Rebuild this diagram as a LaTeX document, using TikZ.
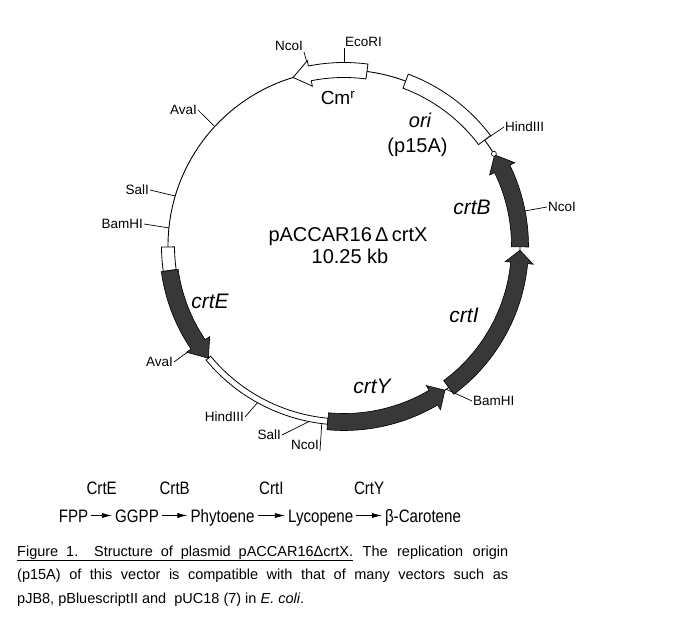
\documentclass[tikz,border=0pt]{standalone}
\usepackage{fontspec}
\setmainfont{Liberation Sans}
\newfontfamily\narrowfont{Liberation Sans}[FakeStretch=0.84]
\usetikzlibrary{arrows.meta}

\newcommand{\ringr}{176}
% gene arrow on the ring: style, start, head base, tip, half band, half head
\newcommand{\genearc}[6]{%
  \filldraw[#1] (#2:{\ringr-#5}) arc[start angle=#2, end angle=#3, radius={\ringr-#5}]
    -- (#3:{\ringr-#6}) -- (#4:\ringr) -- (#3:{\ringr+#6}) -- (#3:{\ringr+#5})
    arc[start angle=#3, end angle=#2, radius={\ringr+#5}] -- cycle;}
% plain box on the ring: style, start, end, half width
\newcommand{\boxarc}[4]{%
  \filldraw[#1] (#2:{\ringr-#4}) arc[start angle=#2, end angle=#3, radius={\ringr-#4}]
    -- (#3:{\ringr+#4}) arc[start angle=#3, end angle=#2, radius={\ringr+#4}] -- cycle;}

\begin{document}
\begin{tikzpicture}[x=1pt, y=1pt,
    plasmid/.style={line width=0.9pt},
    gene/.style={draw=black, fill=black!78, line width=0.6pt},
    openbox/.style={draw=black, fill=white, line width=0.8pt},
    sitetick/.style={line width=0.7pt},
    site/.style={font=\fontsize{13.5}{15}\selectfont, inner sep=1pt},
    lbl/.style={font=\fontsize{20}{24}\selectfont, anchor=base},
    genelbl/.style={font=\fontsize{21}{24}\selectfont\itshape, anchor=base},
    chem/.style={font=\narrowfont\fontsize{18}{20}\selectfont, text height=13pt, text depth=0pt, inner sep=3pt},
    react/.style={-{Latex[length=10pt,width=5pt]}, line width=0.6pt},
    capt/.style={font=\fontsize{14.5}{17}\selectfont, inner sep=0pt, anchor=base west}]
    \useasboundingbox (-344,-388) rectangle (346,246);

    \draw[plasmid] (0,0) circle (\ringr);

    % restriction sites
    \coordinate (ncoA) at (101.2:\ringr);
    \coordinate (ecoA) at (90:\ringr);
    \coordinate (hinA) at (37:\ringr);
    \coordinate (ncoB) at (11:\ringr);
    \coordinate (bamB) at (-54.5:\ringr);
    \coordinate (ncoC) at (-97.2:\ringr);
    \coordinate (salB) at (-100:\ringr);
    \coordinate (hinB) at (-118.7:\ringr);
    \coordinate (avaB) at (-146:\ringr);
    \coordinate (bamA) at (174.1:\ringr);
    \coordinate (salA) at (163.5:\ringr);
    \coordinate (avaA) at (137.3:\ringr);

    \node[site, anchor=east] (ncoAl) at (-40,200) {NcoI};
    \node[site, anchor=south west] (ecoAl) at (0,198) {EcoRI};
    \node[site, anchor=west] (hinAl) at (160,119) {HindIII};
    \node[site, anchor=west] (ncoBl) at (203,39) {NcoI};
    \node[site, anchor=west] (bamBl) at (128,-155) {BamHI};
    \node[site, anchor=east] (ncoCl) at (-24,-199) {NcoI};
    \node[site, anchor=east] (salBl) at (-62,-189) {SalI};
    \node[site, anchor=east] (hinBl) at (-99,-171) {HindIII};
    \node[site, anchor=east] (avaBl) at (-170,-116) {AvaI};
    \node[site, anchor=east] (bamAl) at (-200,22) {BamHI};
    \node[site, anchor=east] (salAl) at (-194,56) {SalI};
    \node[site, anchor=east] (avaAl) at (-146,136) {AvaI};

    \draw[sitetick] (ncoAl.south east) -- (ncoA);
    \draw[sitetick] (ecoAl.south west) -- (ecoA);
    \draw[sitetick] (hinAl.west) -- (hinA);
    \draw[sitetick] (ncoBl.west) -- (ncoB);
    \draw[sitetick] (bamBl.west) -- (bamB);
    \draw[sitetick] (ncoCl.south east) -- (ncoC);
    \draw[sitetick] (salBl.east) -- (salB);
    \draw[sitetick] (hinBl.east) -- (hinB);
    \draw[sitetick] (avaBl.east) -- (avaB);
    \draw[sitetick] (bamAl.east) -- (bamA);
    \draw[sitetick] (salAl.east) -- (salA);
    \draw[sitetick] (avaAl.east) -- (avaA);

    % boxes and genes
    \boxarc{openbox}{37}{69.5}{7.5}
    \boxarc{openbox}{180.3}{188}{6.5}
    \boxarc{openbox}{219.6}{264.7}{3}
    \genearc{openbox}{82.5}{101.2}{106.8}{7.5}{13}
    \genearc{gene}{-0.3}{26}{31.2}{8.5}{14}
    \genearc{gene}{-53.5}{-5.5}{-1.4}{8.5}{14}
    \genearc{gene}{-95.3}{-59.5}{-55}{8.5}{14}
    \genearc{gene}{188}{214}{219.6}{8.5}{14}
    \draw[openbox, line width=0.6pt] (31.6:\ringr) circle (2.5);

    % labels
    \node[lbl, font=\fontsize{19}{22}\selectfont] (cml) at (-6,141) {Cm\textsuperscript{r}};
    \node[genelbl, font=\fontsize{20}{24}\selectfont\itshape] (oril) at (76,118) {ori};
    \node[lbl] (p15l) at (73.5,93) {(p15A)};
    \node[genelbl] (crtBl) at (128,31) {crtB};
    \node[genelbl] (crtEl) at (-134,-62) {crtE};
    \node[genelbl] (crtIl) at (120,-76) {crtI};
    \node[genelbl] (crtYl) at (28,-147) {crtY};
    \node[lbl] (name) at (4,4) {pACCAR16\,Δ\,crtX};
    \node[lbl] (size) at (6,-17) {10.25 kb};

    % pathway
    \node[chem] (fpp) at (-270.5,-269.5) {FPP};
    \node[chem] (ggpp) at (-207,-269.5) {GGPP};
    \node[chem] (phy) at (-121.5,-269.5) {Phytoene};
    \node[chem] (lyc) at (-23.3,-269.5) {Lycopene};
    \node[chem] (bcar) at (79,-269.5) {β-Carotene};
    \draw[react] (fpp) -- (ggpp) node[chem, midway, yshift=28pt] (enzE) {CrtE};
    \draw[react] (ggpp) -- (phy) node[chem, midway, yshift=28pt] (enzB) {CrtB};
    \draw[react] (phy) -- (lyc) node[chem, midway, yshift=28pt] (enzI) {CrtI};
    \draw[react] (lyc) -- (bcar) node[chem, midway, yshift=28pt] (enzY) {CrtY};

    % caption
    \node[capt] (capA) at (-327,-310) {\makebox[491pt][s]{\underline{\makebox[336pt][s]{Figure 1.\ \ Structure of plasmid pACCAR16ΔcrtX.}} The replication origin}};
    \node[capt] (capB) at (-327,-333) {\makebox[491pt][s]{(p15A) of this vector is compatible with that of many vectors such as}};
    \node[capt] (capC) at (-327,-357) {pJB8, pBluescriptII and\ \ pUC18 (7) in \textit{E. coli}.};
\end{tikzpicture}
\end{document}
